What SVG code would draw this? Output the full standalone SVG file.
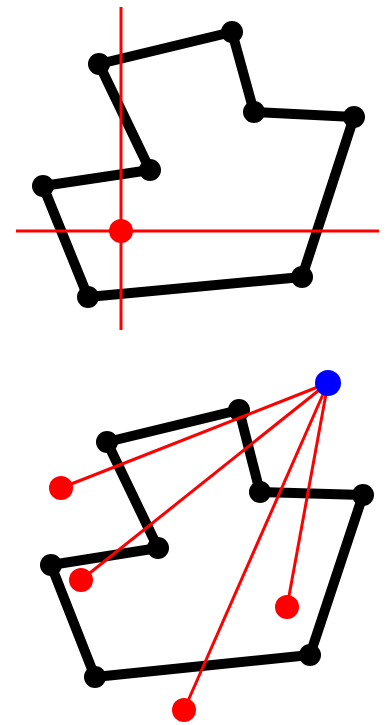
<svg xmlns="http://www.w3.org/2000/svg" width="387" height="725" viewBox="0 0 387 725">
  <style>
    .poly { fill: none; stroke: #000; stroke-width: 10; stroke-linejoin: round; }
    .vtx { fill: #000; }
    .axis { stroke: #f00; stroke-width: 3; }
    .ray { stroke: #f00; stroke-width: 3; }
    .pt { fill: #f00; }
    .src { fill: #00f; }
  </style>
  <rect width="387" height="725" fill="#fff"/>

  <!-- Upper panel: polygon with axis-aligned crosshair through a test point -->
  <g id="polygon-top">
    <polygon class="poly" points="99,64 232,32 254,112 354,117 302,277 88,297 43,186 150,170"/>
    <circle class="vtx" cx="99" cy="64" r="11"/>
    <circle class="vtx" cx="232" cy="32" r="11"/>
    <circle class="vtx" cx="254" cy="112" r="11"/>
    <circle class="vtx" cx="354" cy="117" r="11"/>
    <circle class="vtx" cx="302" cy="277" r="11"/>
    <circle class="vtx" cx="88" cy="297" r="11"/>
    <circle class="vtx" cx="43" cy="186" r="11"/>
    <circle class="vtx" cx="150" cy="170" r="11"/>
  </g>
  <g id="crosshair">
    <line class="axis" x1="121" y1="7" x2="121" y2="330"/>
    <line class="axis" x1="16" y1="231" x2="379" y2="231"/>
    <circle class="pt" cx="121" cy="231" r="12"/>
  </g>

  <!-- Lower panel: same polygon, rays cast from a source point -->
  <g id="polygon-bottom">
    <polygon class="poly" points="107,442 239,410 260,492 363,495 310,655 95,677 51,565 158,548"/>
    <circle class="vtx" cx="107" cy="442" r="11"/>
    <circle class="vtx" cx="239" cy="410" r="11"/>
    <circle class="vtx" cx="260" cy="492" r="11"/>
    <circle class="vtx" cx="363" cy="495" r="11"/>
    <circle class="vtx" cx="310" cy="655" r="11"/>
    <circle class="vtx" cx="95" cy="677" r="11"/>
    <circle class="vtx" cx="51" cy="565" r="11"/>
    <circle class="vtx" cx="158" cy="548" r="11"/>
  </g>
  <g id="rays">
    <line class="ray" x1="328" y1="383" x2="61" y2="488"/>
    <line class="ray" x1="328" y1="383" x2="81" y2="580"/>
    <line class="ray" x1="328" y1="383" x2="287" y2="607"/>
    <line class="ray" x1="328" y1="383" x2="184" y2="710"/>
  </g>
  <g id="targets">
    <circle class="pt" cx="61" cy="488" r="12"/>
    <circle class="pt" cx="81" cy="580" r="12"/>
    <circle class="pt" cx="287" cy="607" r="12"/>
    <circle class="pt" cx="184" cy="710" r="12"/>
  </g>
  <g id="source">
    <circle class="src" cx="328" cy="383" r="13"/>
  </g>
</svg>
